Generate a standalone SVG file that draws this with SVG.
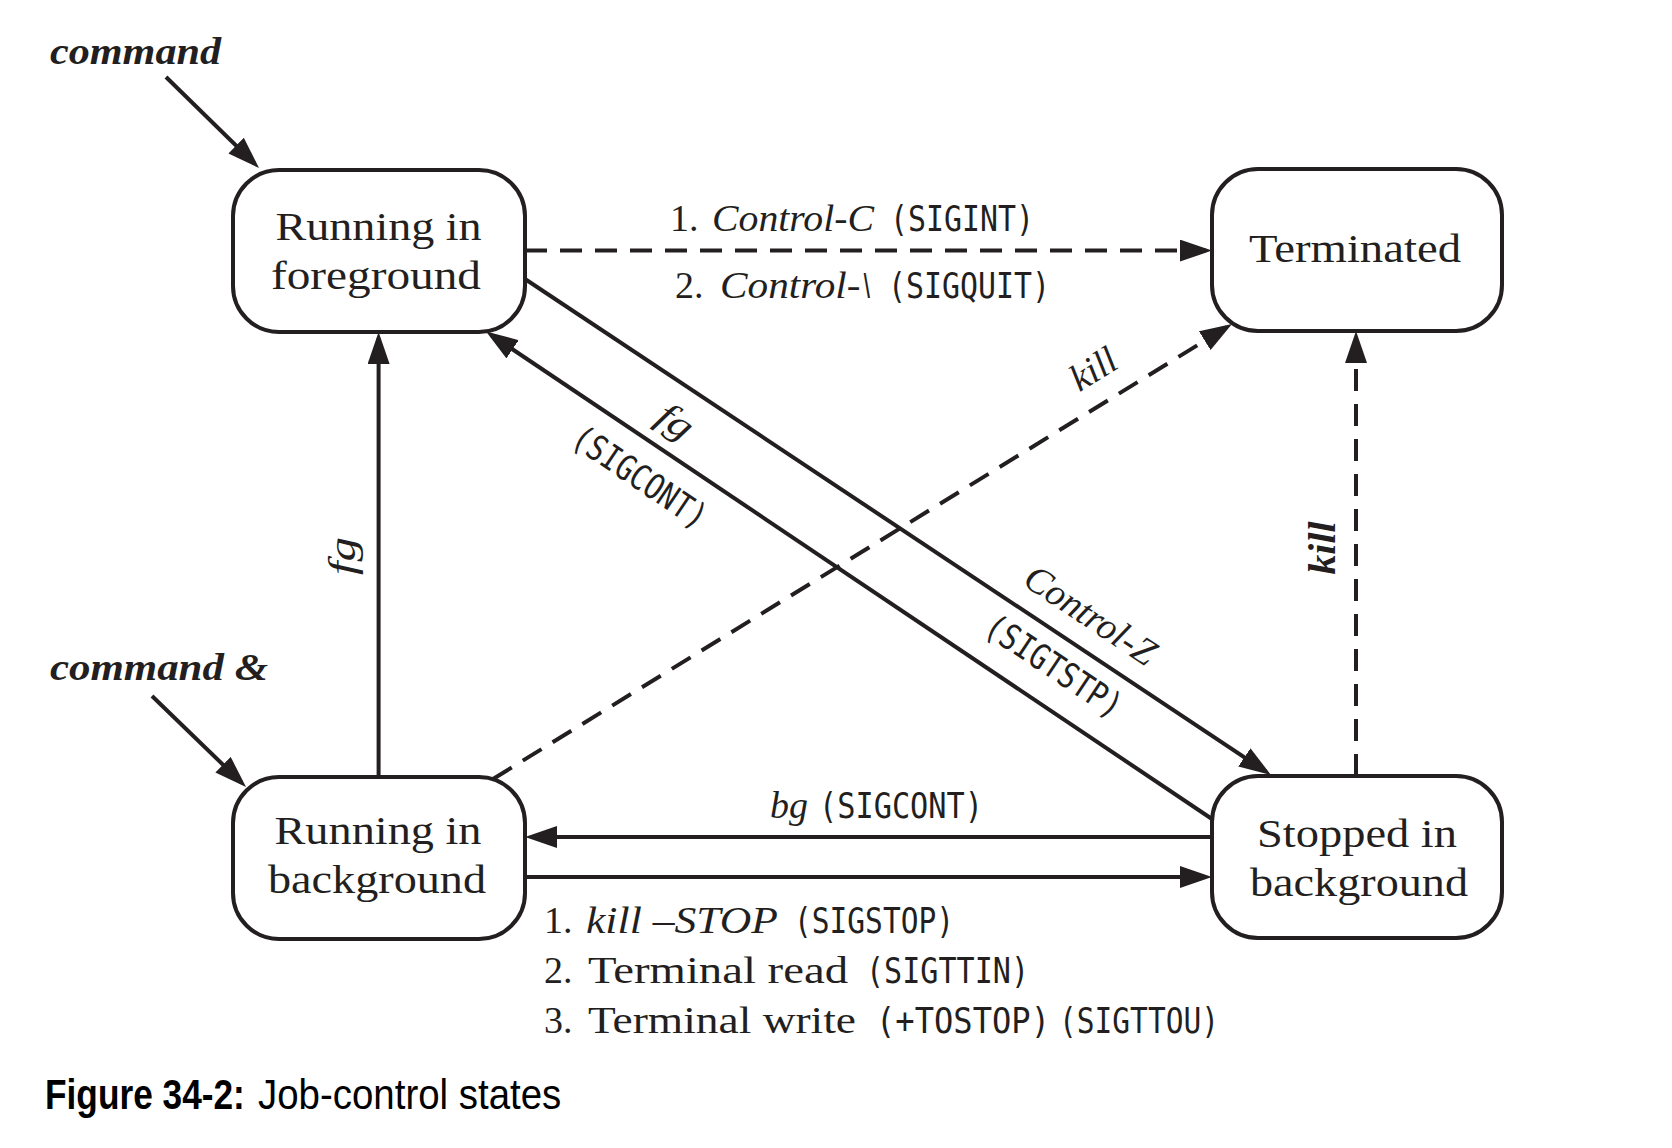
<svg xmlns="http://www.w3.org/2000/svg" width="1672" height="1148" viewBox="0 0 1672 1148">
<style>
.box{fill:#fff;stroke:#231f20;stroke-width:4}
.ln{fill:none;stroke:#231f20;stroke-width:4}
.dash{stroke-dasharray:22 13}
.st{font-family:"Liberation Serif",serif;font-size:40px;fill:#231f20}
.lb{font-family:"Liberation Serif",serif;font-size:38px;fill:#231f20}
.it{font-style:italic}
.bi{font-style:italic;font-weight:bold}
.mono{font-family:"DejaVu Sans Mono",monospace;font-size:35px;fill:#231f20}
.cap{font-family:"Liberation Sans",sans-serif;font-size:42px;fill:#000}
</style>
<defs>
<marker id="ah" viewBox="0 0 32 22" refX="26" refY="11" markerWidth="32" markerHeight="22" markerUnits="userSpaceOnUse" orient="auto">
<path d="M0,0 L32,11 L0,22 Z" fill="#231f20"/>
</marker>
</defs>
<rect width="1672" height="1148" fill="#fff"/>

<g id="connectors">
<line class="ln" x1="166" y1="77" x2="254.7" y2="163.8" marker-end="url(#ah)"/>
<line class="ln" x1="152" y1="696" x2="241.7" y2="782.8" marker-end="url(#ah)"/>
<line class="ln" x1="378.6" y1="777" x2="378.6" y2="338" marker-end="url(#ah)"/>
<line class="ln dash" x1="1356" y1="776" x2="1356" y2="337" marker-end="url(#ah)"/>
<line class="ln dash" x1="525" y1="250.6" x2="1206" y2="250.6" marker-end="url(#ah)"/>
<line class="ln" x1="525" y1="279" x2="1266" y2="771.7" marker-end="url(#ah)"/>
<line class="ln" x1="1212" y1="819" x2="491" y2="334.8" marker-end="url(#ah)"/>
<line class="ln dash" x1="493" y1="779" x2="1226.9" y2="327.1" marker-end="url(#ah)"/>
<line class="ln" x1="1212" y1="837" x2="531" y2="837" marker-end="url(#ah)"/>
<line class="ln" x1="525" y1="877" x2="1206" y2="877" marker-end="url(#ah)"/>
</g>

<g id="node-fg">
<rect class="box" x="233" y="170" width="292" height="162" rx="46" ry="46"/>
<text class="st" x="378.6" y="240" text-anchor="middle" textLength="206" lengthAdjust="spacingAndGlyphs">Running in</text>
<text class="st" x="376" y="289" text-anchor="middle" textLength="210" lengthAdjust="spacingAndGlyphs">foreground</text>
</g>
<g id="node-term">
<rect class="box" x="1212" y="169" width="290" height="162" rx="46" ry="46"/>
<text class="st" x="1355" y="262" text-anchor="middle" textLength="212" lengthAdjust="spacingAndGlyphs">Terminated</text>
</g>
<g id="node-bg">
<rect class="box" x="233" y="777" width="292" height="162" rx="46" ry="46"/>
<text class="st" x="378" y="844" text-anchor="middle" textLength="207" lengthAdjust="spacingAndGlyphs">Running in</text>
<text class="st" x="377" y="893" text-anchor="middle" textLength="218" lengthAdjust="spacingAndGlyphs">background</text>
</g>
<g id="node-stopped">
<rect class="box" x="1212" y="776" width="290" height="162" rx="46" ry="46"/>
<text class="st" x="1357" y="847" text-anchor="middle" textLength="200" lengthAdjust="spacingAndGlyphs">Stopped in</text>
<text class="st" x="1359" y="896" text-anchor="middle" textLength="218" lengthAdjust="spacingAndGlyphs">background</text>
</g>

<g id="labels">
<text class="lb bi" x="50" y="64" textLength="171" lengthAdjust="spacingAndGlyphs">command</text>
<text class="lb bi" x="50" y="680" textLength="218" lengthAdjust="spacingAndGlyphs">command &amp;</text>

<text class="lb" x="670" y="231">1.</text>
<text class="lb it" x="712" y="231" textLength="162" lengthAdjust="spacingAndGlyphs">Control-C</text>
<text class="mono" x="890" y="231" textLength="144" lengthAdjust="spacingAndGlyphs">(SIGINT)</text>

<text class="lb" x="675" y="298">2.</text>
<text class="lb it" x="720" y="298" textLength="152" lengthAdjust="spacingAndGlyphs">Control-\</text>
<text class="mono" x="888" y="298" textLength="162" lengthAdjust="spacingAndGlyphs">(SIGQUIT)</text>

<text class="lb it" x="770" y="818" textLength="38" lengthAdjust="spacingAndGlyphs">bg</text>
<text class="mono" x="819" y="818" textLength="164" lengthAdjust="spacingAndGlyphs">(SIGCONT)</text>

<text class="lb" x="544" y="933">1.</text>
<text class="lb it" x="586" y="933" textLength="192" lengthAdjust="spacingAndGlyphs">kill –STOP</text>
<text class="mono" x="794" y="933" textLength="160" lengthAdjust="spacingAndGlyphs">(SIGSTOP)</text>

<text class="lb" x="544" y="983">2.</text>
<text class="lb" x="588" y="983" textLength="260" lengthAdjust="spacingAndGlyphs">Terminal read</text>
<text class="mono" x="866" y="983" textLength="163" lengthAdjust="spacingAndGlyphs">(SIGTTIN)</text>

<text class="lb" x="544" y="1033">3.</text>
<text class="lb" x="588" y="1033" textLength="268" lengthAdjust="spacingAndGlyphs">Terminal write</text>
<text class="mono" x="876" y="1033" textLength="174" lengthAdjust="spacingAndGlyphs">(+TOSTOP)</text>
<text class="mono" x="1059" y="1033" textLength="160" lengthAdjust="spacingAndGlyphs">(SIGTTOU)</text>

<text class="lb it" transform="translate(344,556) rotate(-90)" x="0" y="0" dy="0.3em" text-anchor="middle" textLength="38" lengthAdjust="spacingAndGlyphs">fg</text>
<text class="lb bi" transform="translate(1324,548) rotate(-90)" x="0" y="0" dy="0.3em" text-anchor="middle" textLength="53" lengthAdjust="spacingAndGlyphs">kill</text>
<text class="lb it" transform="translate(1094,370) rotate(-31.6)" x="0" y="0" dy="0.3em" text-anchor="middle" textLength="48" lengthAdjust="spacingAndGlyphs">kill</text>
<text class="lb it" transform="translate(675,422) rotate(34)" x="0" y="0" dy="0.3em" text-anchor="middle" textLength="36" lengthAdjust="spacingAndGlyphs">fg</text>
<text class="mono" transform="translate(640,477) rotate(34)" x="0" y="0" dy="0.35em" text-anchor="middle" textLength="155" lengthAdjust="spacingAndGlyphs">(SIGCONT)</text>
<text class="lb it" transform="translate(1090,616) rotate(33.6)" x="0" y="0" dy="0.3em" text-anchor="middle" textLength="150" lengthAdjust="spacingAndGlyphs">Control-Z</text>
<text class="mono" transform="translate(1054,666) rotate(33.6)" x="0" y="0" dy="0.35em" text-anchor="middle" textLength="157" lengthAdjust="spacingAndGlyphs">(SIGTSTP)</text>

<text class="cap" transform="translate(45,1109) scale(0.84,1)" x="0" y="0" font-weight="bold">Figure 34-2:</text>
<text class="cap" transform="translate(258,1109) scale(0.915,1)" x="0" y="0">Job-control states</text>
</g>
</svg>
